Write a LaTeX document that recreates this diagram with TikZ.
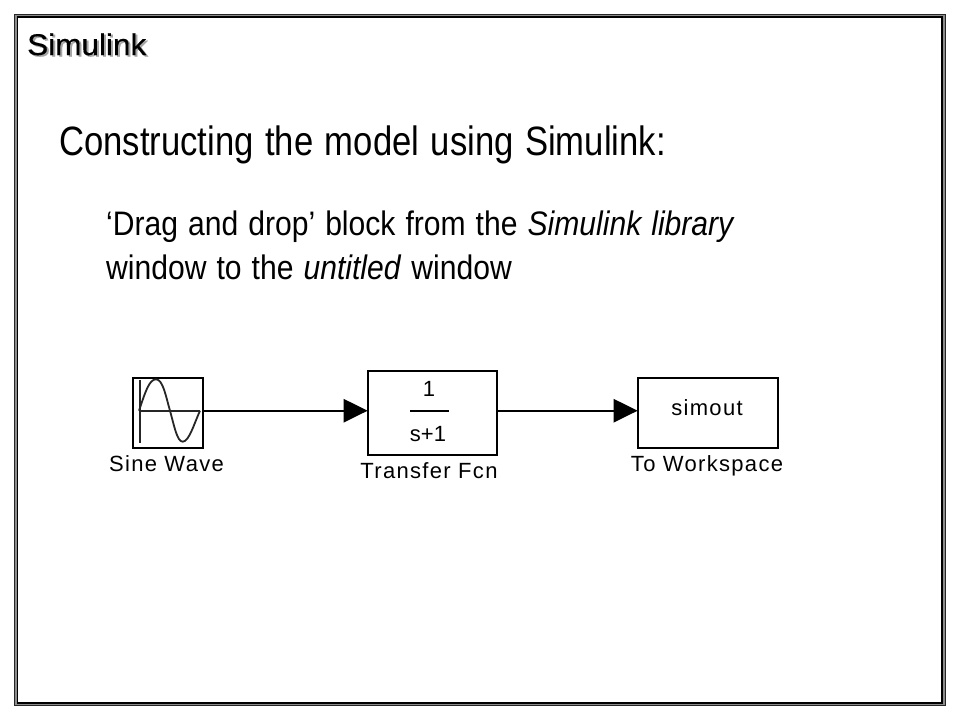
\documentclass[tikz,border=0pt]{standalone}
\usepackage{fontspec}
\setmainfont{Liberation Sans}
\newfontfamily\blockfont[LetterSpace=6]{Liberation Sans}
\newfontfamily\titlefont[FakeStretch=0.845,WordSpace=1.2]{Liberation Sans}
\newfontfamily\slidefont[FakeStretch=0.885,WordSpace=1.2]{Liberation Sans}
\newfontfamily\headfont[FakeStretch=1.05,FakeBold=0.4]{Liberation Sans}
\usetikzlibrary{arrows.meta}
\tikzset{
  x=1pt,y=-1pt,
  block/.style={draw=black,line width=2.4pt,fill=white,inner sep=0pt,outer sep=0pt,anchor=north west},
  label/.style={inner sep=0pt,anchor=base,font=\fontsize{22}{22}\selectfont\blockfont},
  slidetext/.style={inner sep=0pt,anchor=base west,text=black},
  wire/.style={line width=2.4pt,-{Triangle[length=24pt,width=23pt]}},
  trace/.style={line width=1.8pt,draw=black!85}
}
\begin{document}
\begin{tikzpicture}
\useasboundingbox (0,0) rectangle (960,720);
\fill[white] (0,0) rectangle (960,720);
% slide frame
\draw[line width=3.5pt,draw=black!45] (16,15.5) rectangle (944,704);
\draw[line width=1pt,draw=black!85] (14.5,14.5) rectangle (945,705.5);
\draw[line width=1.2pt,draw=black] (17.5,17) rectangle (942,703);
% heading
\node[slidetext,font=\fontsize{30}{30}\selectfont\headfont] (head) at (27,55) {\rlap{\kern2pt\raisebox{-1.5pt}{\textcolor{black!35}{Simulink}}}Simulink};
\node[slidetext,font=\fontsize{41}{41}\selectfont\titlefont] (title) at (59,155) {Constructing the model using Simulink:};
\node[slidetext,font=\fontsize{34}{34}\selectfont\slidefont] (l1) at (106,235) {‘Drag and drop’ block from the \textit{Simulink library}};
\node[slidetext,font=\fontsize{34}{34}\selectfont\slidefont] (l2) at (106,279.5) {window to the \textit{untitled} window};
% blocks
\node[block,minimum width=70pt,minimum height=70pt] (sine) at (132.7,377.7) {};
\node[block,minimum width=129pt,minimum height=84pt] (tf) at (367.7,370.7) {};
\node[block,minimum width=140.2pt,minimum height=70pt] (ws) at (637.7,377.7) {};
% sine icon
\coordinate (axtop) at (140,380);
\coordinate (axbot) at (140,442.7);
\coordinate (axl) at (139,410.7);
\coordinate (axr) at (200,410.7);
\draw[trace] (axtop) -- (axbot);
\draw[trace] (axl) -- (axr);
\draw[trace,line join=round] (axl) .. controls (145,393) and (149,379.3) .. (156,379.3)
  .. controls (163,379.3) and (166,397) .. (170,410.7)
  .. controls (174,425) and (177,441.7) .. (182.7,441.7)
  .. controls (189,441.7) and (194,424) .. (axr);
% block texts
\node[inner sep=0pt,anchor=base,font=\fontsize{22}{22}\selectfont] (one) at (429,396) {1};
\coordinate (fracl) at (410,410.7);
\coordinate (fracr) at (449,410.7);
\draw[line width=2pt] (fracl) -- (fracr);
\node[inner sep=0pt,anchor=base,font=\fontsize{22}{22}\selectfont] (den) at (428,441) {s+1};
\node[inner sep=0pt,anchor=base,font=\fontsize{22}{22}\selectfont\blockfont] (sim) at (707,415) {simout};
\node[label] (sinel) at (166.5,471) {Sine Wave};
\node[label] (tfl) at (429,478) {Transfer Fcn};
\node[label] (wsl) at (707,471) {To Workspace};
% connectors
\draw[wire] (sine.east |- axl) -- (tf.west |- axl);
\draw[wire] (tf.east |- axl) -- (ws.west |- axl);
\end{tikzpicture}
\end{document}
